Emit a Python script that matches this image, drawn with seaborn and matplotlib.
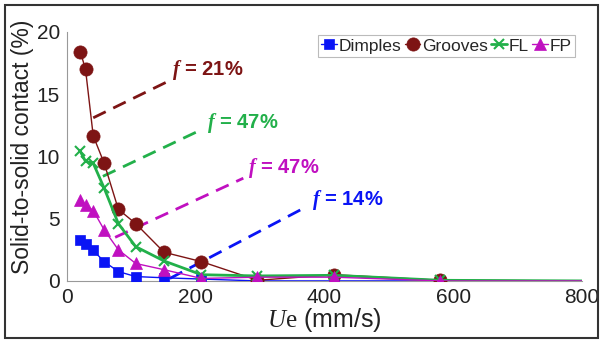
import numpy as np
import pandas as pd
import matplotlib
matplotlib.use("Agg")
import matplotlib.pyplot as plt
import seaborn as sns
from matplotlib.patches import Rectangle

# Entrainment speed (mm/s)
speed = [21, 29, 41, 58, 80, 107, 151, 209, 296, 415, 580, 800]

# Solid-to-solid contact (%)
dimples = [3.25, 2.95, 2.45, 1.55, 0.75, 0.35, 0.25, 0.15, 0.0, 0.0, 0.0, 0.0]
grooves = [18.4, 17.0, 11.65, 9.45, 5.75, 4.6, 2.3, 1.55, 0.05, 0.5, 0.05, 0.0]
fl = [10.4, 9.6, 9.45, 7.45, 4.6, 2.75, 1.6, 0.5, 0.4, 0.45, 0.05, 0.0]
fp = [6.5, 6.1, 5.65, 4.1, 2.5, 1.4, 0.9, 0.2, 0.3, 0.3, 0.0, 0.0]

series_names = ["Dimples", "Grooves", "FL", "FP"]
series_values = [dimples, grooves, fl, fp]
colors = ["#0a14f5", "#7d1414", "#22b04a", "#c010c0"]
markers = ["s", "o", "x", "^"]
msizes = [7, 9.5, 7, 8.5]
lwidths = [1.0, 1.0, 2.0, 1.0]

# area-fraction callouts: line start, line end, text position
labels_f = ["21%", "47%", "47%", "14%"]
label_colors = ["#7d1414", "#22b04a", "#c010c0", "#0a14f5"]
line_start = [(41, 13.1), (56, 8.4), (75, 3.5), (160, 0.2)]
line_end = [(160, 16.1), (207, 12.1), (274, 8.25), (368, 5.85)]
text_pos = [(163, 16.9), (217, 12.7), (281, 9.1), (380, 6.5)]

sns.set_style("white")
plt.rcParams["font.family"] = ["Liberation Sans", "DejaVu Sans"]
plt.rcParams["mathtext.fontset"] = "custom"
plt.rcParams["mathtext.it"] = "Liberation Serif:italic"
plt.rcParams["mathtext.rm"] = "Liberation Serif"
plt.rcParams["mathtext.bf"] = "Liberation Serif:italic:bold"

fig = plt.figure(figsize=(6.02, 3.43), dpi=100)
ax = fig.add_axes([0.111, 0.181, 0.856, 0.726])

for name, vals, c, m, ms, lw in zip(series_names, series_values, colors, markers, msizes, lwidths):
    df = pd.DataFrame({"speed": speed, "contact": vals})
    sns.lineplot(data=df, x="speed", y="contact", ax=ax, color=c, marker=m,
                 markersize=ms, linewidth=lw, markeredgecolor=c, markeredgewidth=1.5 if m == "x" else 0.5,
                 markevery=slice(0, len(speed) - 1), label=name, zorder=3)

for lab, c, p0, p1, tp in zip(labels_f, label_colors, line_start, line_end, text_pos):
    ax.plot([p0[0], p1[0]], [p0[1], p1[1]], color=c, lw=2, dashes=(5, 3), zorder=2)
    ax.text(tp[0], tp[1], r"$\mathbf{f}$ = " + lab, color=c, fontsize=14.5,
            fontweight="bold", ha="left", va="center")

ax.set_xlim(0, 800)
ax.set_ylim(0, 20)
ax.set_xticks([0, 200, 400, 600, 800])
ax.set_yticks([0, 5, 10, 15, 20])
ax.tick_params(direction="in", length=4, width=0.8, color="#999999", labelsize=15,
               labelcolor="#222222", pad=5)
for s in ["top", "right"]:
    ax.spines[s].set_visible(False)
for s in ["left", "bottom"]:
    ax.spines[s].set_color("#999999")
    ax.spines[s].set_linewidth(0.8)

ax.set_xlabel(r"$U\mathrm{e}$ (mm/s)", fontsize=18, color="#222222")
ax.set_ylabel("Solid-to-solid contact (%)", fontsize=16.5, color="#222222")
ax.xaxis.set_label_coords(0.5, -0.1)
ax.yaxis.set_label_coords(-0.064, 0.54)

leg = ax.legend(loc="upper right", bbox_to_anchor=(0.99, 0.995), ncol=4, fontsize=12.5,
                frameon=True, fancybox=False, handlelength=0.9, handletextpad=0.1,
                columnspacing=0.2, borderpad=0.2, borderaxespad=0.1)
leg.get_frame().set_edgecolor("#aaaaaa")
leg.get_frame().set_linewidth(0.8)

# outer frame around the whole figure
fig.patches.append(Rectangle((0.008, 0.0146), 0.985, 0.971, transform=fig.transFigure,
                             fill=False, edgecolor="#333333", lw=1.5))

fig.savefig("out.png", dpi=100)
